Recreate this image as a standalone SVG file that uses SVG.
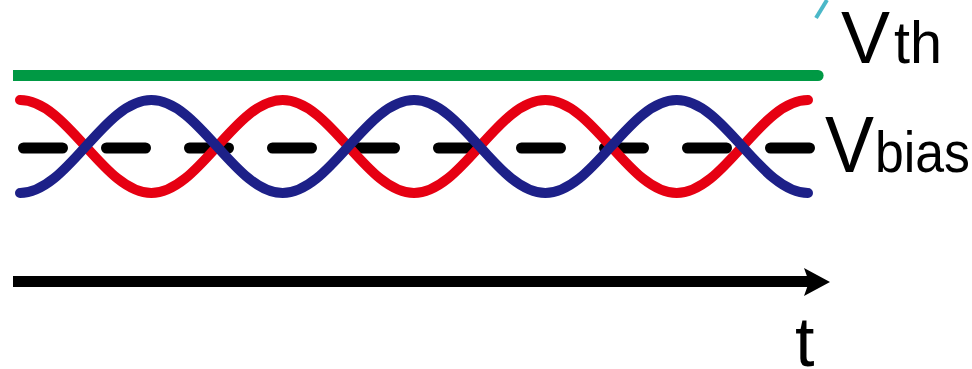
<svg xmlns="http://www.w3.org/2000/svg" width="972" height="369" viewBox="0 0 972 369">
  <style>
    .wave { fill: none; stroke-width: 10; stroke-linecap: round; }
    .lbl { font-family: "Liberation Sans", Arial, sans-serif; fill: #000; }
  </style>
  <rect width="972" height="369" fill="#fff"/>
  <g id="threshold">
    <path d="M13,75.5 H818" stroke="#009944" stroke-width="11" stroke-linecap="butt" fill="none"/>
    <path d="M818,75.5 H818.1" stroke="#009944" stroke-width="11" stroke-linecap="round" fill="none"/>
    <line x1="816" y1="18" x2="827" y2="0" stroke="#4BB8C8" stroke-width="4"/>
  </g>
  <g id="bias">
    <path d="M23.5,148 H809.5" stroke="#000" stroke-width="11" stroke-linecap="round" stroke-dasharray="39 44" fill="none"/>
  </g>
  <g id="signals">
    <path class="wave" stroke="#E60012" d="M20,100 C67.7,100 103.63,193 151.33,193 S234.97,100 282.67,100 S366.3,193 414,193 S497.63,100 545.33,100 S628.97,193 676.67,193 S760.3,100 808,100"/>
    <path class="wave" stroke="#1D2088" d="M20,193 C67.7,193 103.63,100 151.33,100 S234.97,193 282.67,193 S366.3,100 414,100 S497.63,193 545.33,193 S628.97,100 676.67,100 S760.3,193 808,193"/>
  </g>
  <g id="connectors">
    <line x1="13" y1="281.5" x2="809" y2="281.5" stroke="#000" stroke-width="11"/>
    <polygon points="804,268 830,282 804,296 809,282" fill="#000"/>
  </g>
  <g id="labels">
    <text class="lbl" x="841" y="63" font-size="74" textLength="49" lengthAdjust="spacingAndGlyphs">V</text>
    <text class="lbl" x="894" y="63" font-size="59" textLength="48" lengthAdjust="spacingAndGlyphs">th</text>
    <text class="lbl" x="825" y="172" font-size="80" textLength="49" lengthAdjust="spacingAndGlyphs">V</text>
    <text class="lbl" x="875" y="172" font-size="57" textLength="95" lengthAdjust="spacingAndGlyphs">bias</text>
    <text class="lbl" x="795" y="366" font-size="70">t</text>
  </g>
</svg>
